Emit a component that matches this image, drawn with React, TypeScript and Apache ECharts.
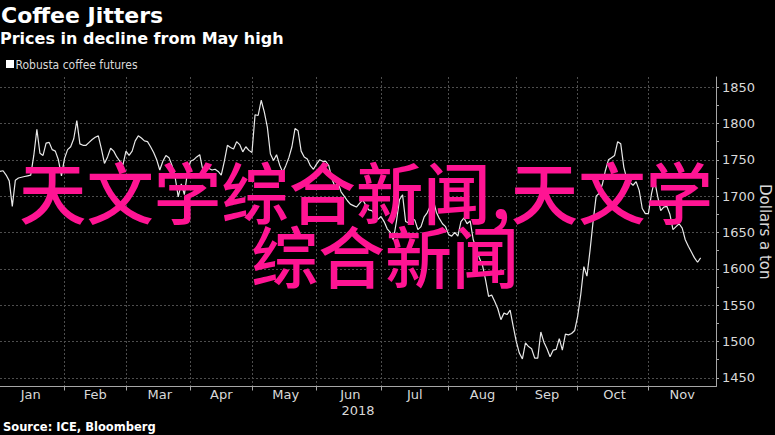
import React, { useEffect, useRef } from "react";
import * as echarts from "echarts";

const TITLE = "Coffee Jitters";
const SUBTITLE = "Prices in decline from May high";
const SERIES_NAME = "Robusta coffee futures";
const SOURCE = "Source: ICE, Bloomberg";
const Y_NAME = "Dollars a ton";
const YEAR = "2018";
const OVERLAY_LINE_1 = "天文学综合新闻,天文学";
const OVERLAY_LINE_2 = "综合新闻";

const MONTHS = ["Jan", "Feb", "Mar", "Apr", "May", "Jun", "Jul", "Aug", "Sep", "Oct", "Nov"];
const FIRST_DAY = "2018-01-02";
const LAST_DAY = "2018-11-30";
const HOLIDAYS = ["2018-03-30", "2018-04-02", "2018-05-07", "2018-05-28", "2018-08-27"];

const Y_MIN = 1438;
const Y_MAX = 1864;
const Y_LABELS = [1450, 1500, 1550, 1600, 1650, 1700, 1750, 1800, 1850];
const Y_MINOR = [1475, 1525, 1575, 1625, 1675, 1725, 1775, 1825];

// Robusta coffee futures, daily closes ($/ton), one list per month
const JAN = [1734, 1735, 1729, 1721, 1686, 1722, 1725, 1726, 1727, 1728, 1729, 1756, 1792, 1759, 1756, 1773, 1774, 1764, 1762, 1750, 1728, 1752];
const FEB = [1764, 1768, 1779, 1804, 1772, 1770, 1770, 1774, 1778, 1781, 1783, 1765, 1745, 1754, 1766, 1762, 1754, 1748, 1743, 1762];
const MAR = [1756, 1762, 1776, 1783, 1780, 1776, 1775, 1768, 1760, 1750, 1736, 1748, 1756, 1753, 1742, 1726, 1699, 1717, 1702, 1733, 1748];
const APR = [1750, 1754, 1757, 1736, 1741, 1738, 1736, 1737, 1734, 1729, 1748, 1770, 1767, 1765, 1775, 1771, 1761, 1768, 1763, 1760];
const MAY = [1812, 1811, 1832, 1816, 1795, 1758, 1749, 1757, 1743, 1733, 1742, 1753, 1768, 1793, 1790, 1762, 1754, 1751, 1742, 1737, 1744];
const JUN = [1750, 1748, 1748, 1742, 1724, 1713, 1718, 1706, 1700, 1694, 1689, 1687, 1685, 1690, 1695, 1688, 1681, 1680, 1675, 1668, 1672];
const JUL = [1665, 1655, 1650, 1640, 1665, 1695, 1702, 1665, 1663, 1670, 1667, 1654, 1658, 1671, 1677, 1686, 1695, 1678, 1669, 1662, 1658, 1647];
const AUG = [1645, 1650, 1645, 1665, 1670, 1662, 1666, 1640, 1628, 1615, 1605, 1585, 1562, 1564, 1555, 1545, 1530, 1539, 1537, 1543, 1521, 1500];
const SEP = [1484, 1476, 1498, 1493, 1490, 1477, 1477, 1513, 1499, 1490, 1479, 1488, 1489, 1504, 1488, 1510, 1509, 1511, 1515, 1535];
const OCT = [1565, 1603, 1590, 1625, 1665, 1700, 1704, 1716, 1735, 1750, 1753, 1756, 1775, 1772, 1740, 1723, 1719, 1715, 1720, 1708, 1683, 1676, 1676];
const NOV = [1703, 1722, 1700, 1680, 1685, 1686, 1675, 1654, 1658, 1662, 1656, 1640, 1631, 1623, 1615, 1609, 1615];

const PRICES = [...JAN, ...FEB, ...MAR, ...APR, ...MAY, ...JUN, ...JUL, ...AUG, ...SEP, ...OCT, ...NOV];

function tradingDays(): string[] {
  const out: string[] = [];
  const d = new Date(FIRST_DAY + "T00:00:00Z");
  const end = new Date(LAST_DAY + "T00:00:00Z");
  while (d.getTime() <= end.getTime()) {
    const s = d.toISOString().slice(0, 10);
    const wd = d.getUTCDay();
    if (wd !== 0 && wd !== 6 && HOLIDAYS.indexOf(s) < 0) out.push(s);
    d.setUTCDate(d.getUTCDate() + 1);
  }
  return out;
}

const LABEL_COLOR = "#d9d9d9";
const AXIS_COLOR = "#a6a6a6";
const GRID_COLOR = "#4d4d4d";
const PINK = "#ff1493";
const NARROW = '"DejaVu Sans Condensed", "DejaVu Sans", sans-serif';
const SANS = '"DejaVu Sans", sans-serif';

export default function App() {
  const ref = useRef<HTMLDivElement>(null);

  useEffect(() => {
    document.body.style.margin = "0";
    document.body.style.background = "#000";
    const chart = echarts.init(ref.current!, null, { renderer: "svg" });

    const dates = tradingDays();
    const monthOf = (s: string) => Number(s.slice(5, 7)) - 1;
    const first: Record<number, number> = {};
    const last: Record<number, number> = {};
    dates.forEach((s, i) => {
      const m = monthOf(s);
      if (first[m] === undefined) first[m] = i;
      last[m] = i;
    });
    const tickIdx = new Set<number>();
    const labelIdx = new Set<number>();
    Object.keys(first).forEach((k) => {
      const m = Number(k);
      if (last[m] < dates.length - 1) tickIdx.add(last[m]);
      labelIdx.add(Math.floor((first[m] + last[m]) / 2));
    });

    const option: any = {
      animation: false,
      backgroundColor: "#000",
      grid: { left: 0, right: 59, top: 77, bottom: 48.5, containLabel: false, outerBoundsMode: "none" },
      xAxis: {
        type: "category",
        data: dates,
        boundaryGap: false,
        name: YEAR,
        nameLocation: "middle",
        nameGap: 17,
        nameMoveOverlap: false,
        nameTextStyle: { color: LABEL_COLOR, fontSize: 13, fontFamily: SANS },
        axisLine: { show: true, lineStyle: { color: AXIS_COLOR, width: 1 } },
        axisTick: {
          show: true,
          length: 4,
          interval: (i: number) => tickIdx.has(i),
          lineStyle: { color: AXIS_COLOR },
        },
        axisLabel: {
          show: true,
          interval: (i: number) => labelIdx.has(i),
          formatter: (v: string) => MONTHS[monthOf(v)],
          margin: 1,
          color: LABEL_COLOR,
          fontSize: 13,
          fontFamily: SANS,
        },
        splitLine: {
          show: true,
          interval: (i: number) => tickIdx.has(i),
          lineStyle: { color: GRID_COLOR, type: [2, 2], width: 1 },
        },
      },
      yAxis: [
        {
          type: "value",
          position: "right",
          min: Y_MIN,
          max: Y_MAX,
          name: Y_NAME,
          nameLocation: "middle",
          nameRotate: -90,
          nameGap: 41,
          nameMoveOverlap: false,
          nameTextStyle: { color: LABEL_COLOR, fontSize: 15, fontFamily: SANS },
          axisLine: { show: true, lineStyle: { color: AXIS_COLOR, width: 1 } },
          axisTick: {
            show: true,
            length: 3,
            customValues: [...Y_LABELS, ...Y_MINOR],
            lineStyle: { color: AXIS_COLOR },
          },
          axisLabel: {
            show: true,
            customValues: Y_LABELS,
            formatter: (v: number) => String(v),
            margin: 6,
            color: LABEL_COLOR,
            fontSize: 13,
            fontFamily: SANS,
          },
          splitLine: { show: false },
        },
        {
          type: "value",
          position: "right",
          min: Y_MIN,
          max: Y_MAX,
          splitNumber: 8,
          axisLine: { show: false },
          axisTick: { show: false },
          axisLabel: { show: false },
          splitLine: {
            show: true,
            showMinLine: false,
            showMaxLine: false,
            lineStyle: { color: GRID_COLOR, type: [2, 2], width: 1 },
          },
        },
      ],
      series: [
        {
          name: SERIES_NAME,
          type: "line",
          data: PRICES,
          xAxisIndex: 0,
          yAxisIndex: 0,
          showSymbol: false,
          symbol: "none",
          silent: true,
          z: 3,
          lineStyle: { color: "#e8e8e8", width: 1.2 },
        },
      ],
      graphic: [
        {
          type: "text",
          x: 1,
          y: 15,
          style: { text: TITLE, fill: "#fff", fontSize: 22, fontWeight: "bold", fontFamily: SANS, align: "left", verticalAlign: "middle" },
        },
        {
          type: "text",
          x: 0,
          y: 38,
          style: { text: SUBTITLE, fill: "#fff", fontSize: 16, fontWeight: "bold", fontFamily: SANS, align: "left", verticalAlign: "middle" },
        },
        {
          type: "rect",
          shape: { x: 6, y: 60, width: 8, height: 8 },
          style: { fill: "#fff" },
        },
        {
          type: "text",
          x: 15.5,
          y: 64.5,
          style: { text: SERIES_NAME, fill: LABEL_COLOR, fontSize: 12, fontFamily: NARROW, align: "left", verticalAlign: "middle" },
        },
        {
          type: "text",
          x: 3,
          y: 427,
          style: { text: SOURCE, fill: "#fff", fontSize: 11.5, fontWeight: "bold", fontFamily: SANS, align: "left", verticalAlign: "middle" },
        },
        {
          type: "text",
          x: 19,
          y: 189,
          z: 100,
          style: { text: OVERLAY_LINE_1, fill: PINK, fontSize: 67.4, fontWeight: 500, fontFamily: '"Noto Sans CJK SC", sans-serif', align: "left", verticalAlign: "middle" },
        },
        {
          type: "text",
          x: 251,
          y: 253,
          z: 100,
          style: { text: OVERLAY_LINE_2, fill: PINK, fontSize: 67, fontWeight: 500, fontFamily: '"Noto Sans CJK SC", sans-serif', align: "left", verticalAlign: "middle" },
        },
      ],
    };

    chart.setOption(option);
    return () => chart.dispose();
  }, []);

  return <div ref={ref} style={{ width: 775, height: 435, background: "#000" }} />;
}
